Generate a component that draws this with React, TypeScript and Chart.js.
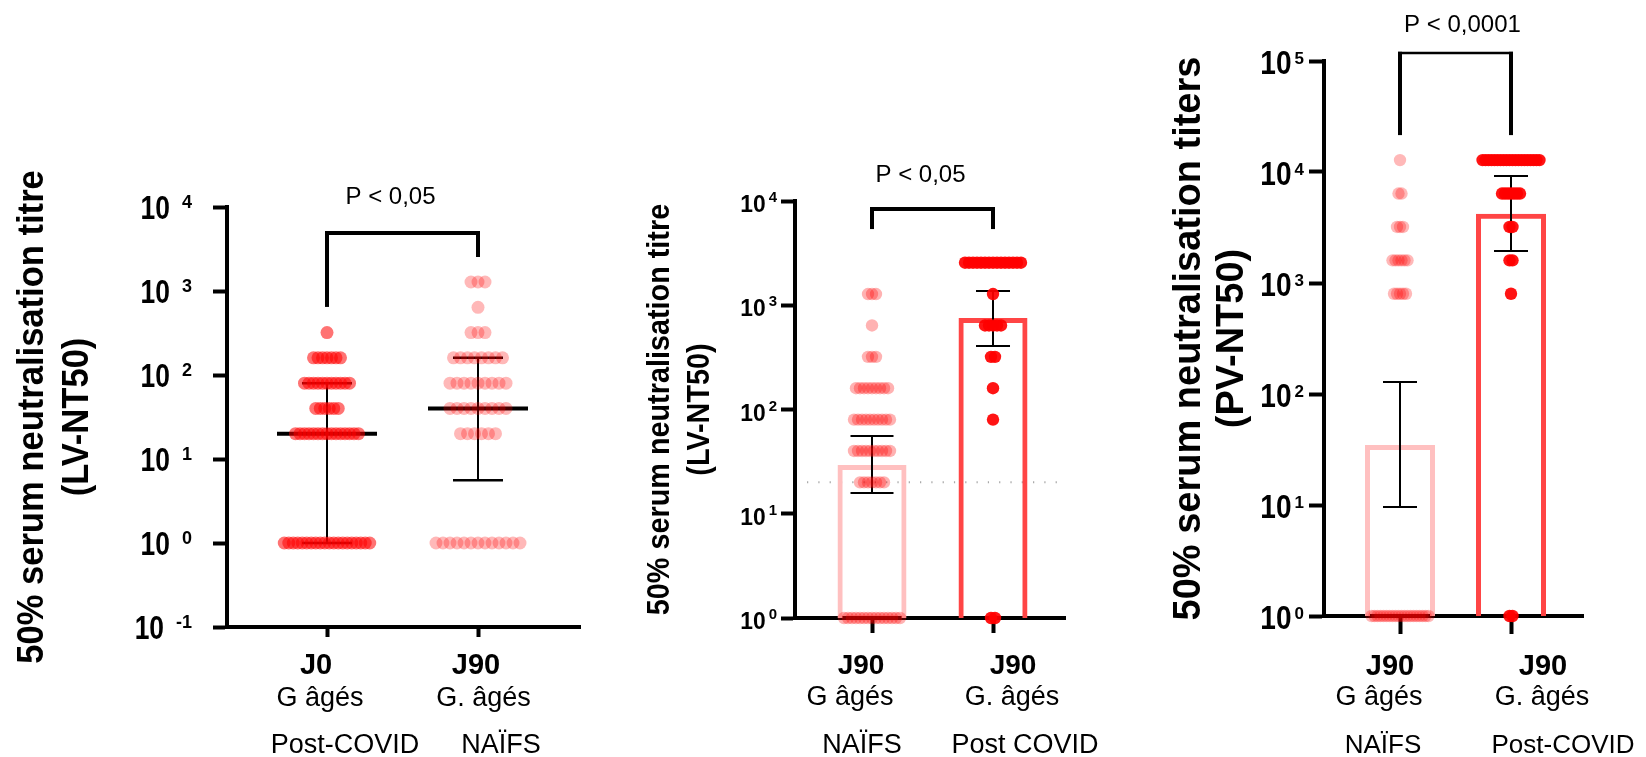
import React, { useEffect, useRef } from 'react';
import { Chart, registerables } from 'chart.js';

Chart.register(...registerables);

const FONT = '"Liberation Sans", Arial, Helvetica, sans-serif';
const W = 1646;
const H = 757;

// ---------------- Panel 1 : LV-NT50, J0 Post-COVID vs J90 NAÏFS ----------------
const p1Levels = [1, 20, 40, 80, 160, 320, 640, 1280];
const p1PostCovidCounts = [20, 15, 6, 11, 7, 1, 0, 0];
const p1NaifsCounts = [13, 6, 9, 9, 8, 3, 1, 3];
const p1Medians = [20, 40];
const p1ErrLow = [1, 5.6];
const p1ErrHigh = [80, 160];
const p1YTicks = [0.1, 1, 10, 100, 1000, 10000];
const p1Days = ['J0', 'J90'];
const p1Groups = ['G âgés', 'G. âgés'];
const p1Status = ['Post-COVID', 'NAÏFS'];
const p1Title = ['50% serum neutralisation titre', '(LV-NT50)'];
const p1PValue = 'P < 0,05';
const p1Bracket = [4900, 646, 2540]; // top, left leg end, right leg end

// ---------------- Panel 2 : LV-NT50, J90 NAÏFS vs J90 Post COVID ----------------
const p2Levels = [1, 20, 40, 80, 160, 320, 640, 1280, 2560];
const p2NaifsCounts = [15, 7, 10, 10, 9, 3, 1, 3, 0];
const p2PostCovidCounts = [2, 0, 0, 1, 1, 2, 5, 1, 15];
const p2BarValues = [29.4, 755];
const p2ErrLow = [15.8, 406];
const p2ErrHigh = [55.7, 1370];
const p2Threshold = 20;
const p2YTicks = [1, 10, 100, 1000, 10000];
const p2Days = ['J90', 'J90'];
const p2Groups = ['G âgés', 'G. âgés'];
const p2Status = ['NAÏFS', 'Post COVID'];
const p2Title = ['50% serum neutralisation titre', '(LV-NT50)'];
const p2PValue = 'P < 0,05';
const p2Bracket = [8380, 5380, 5380];

// ---------------- Panel 3 : PV-NT50, J90 NAÏFS vs J90 Post-COVID ----------------
const p3Levels = [1, 800, 1600, 3200, 6400, 12800];
const p3NaifsCounts = [20, 5, 6, 3, 2, 1];
const p3PostCovidCounts = [2, 1, 2, 2, 7, 20];
const p3BarValues = [34.7, 4200];
const p3ErrLow = [9.6, 1940];
const p3ErrHigh = [128, 9200];
const p3YTicks = [1, 10, 100, 1000, 10000, 100000];
const p3Days = ['J90', 'J90'];
const p3Groups = ['G âgés', 'G. âgés'];
const p3Status = ['NAÏFS', 'Post-COVID'];
const p3Title = ['50% serum neutralisation titers', '(PV-NT50)'];
const p3PValue = 'P < 0,0001';
const p3Bracket = [118000, 21500, 21500];

const panels: any[] = [
  {
    levels: p1Levels,
    groups: [
      { counts: p1PostCovidCounts, color: 'rgba(255,0,0,0.55)', spacingPx: 4.5 },
      { counts: p1NaifsCounts, color: 'rgba(255,0,0,0.28)', spacingPx: 7 },
    ],
    medians: p1Medians, errLow: p1ErrLow, errHigh: p1ErrHigh,
    yTicks: p1YTicks, yMin: 0.1, yMax: 10000,
    days: p1Days, groupLbl: p1Groups, status: p1Status, title: p1Title, pValue: p1PValue, bracket: p1Bracket,
    layout: {
      area: [227, 207, 580, 627], xRange: [-0.6623, 1.6755], xTickLen: 10, yTickLen: 14, pointRadius: 6.5,
      tickLabel: { tenSize: 33, tenScale: 0.8, expSize: 18, gap: 12, rightDx: -35, tenDy: 12, expDy: 1 },
      title: { size: 36, scale: 0.96, dx: [-184, -139] },
      xLabels: { sizes: [29, 27, 27], dy: [47, 79, 126], dx: [[-11, -7, 18], [-2, 5.5, 23]] },
      stats: { errWidth: 2, capWidth: 2.5, capHalf: [25, 25], medianWidth: 4, medianHalf: 50 },
      bracket: { hWidth: 4, legWidth: 4, pSize: 24, pDx: -12, pDy: -29 },
    },
  },
  {
    levels: p2Levels,
    groups: [
      { counts: p2NaifsCounts, color: 'rgba(255,0,0,0.3)', spacingPx: 4 },
      { counts: p2PostCovidCounts, color: 'rgba(255,0,0,0.92)', spacingPx: 4 },
    ],
    bars: { values: p2BarValues, colors: ['#ffc0c0', '#ff4545'] },
    threshold: p2Threshold,
    errLow: p2ErrLow, errHigh: p2ErrHigh,
    yTicks: p2YTicks, yMin: 1, yMax: 10000,
    days: p2Days, groupLbl: p2Groups, status: p2Status, title: p2Title, pValue: p2PValue, bracket: p2Bracket,
    layout: {
      area: [795, 201, 1065, 618], xRange: [-0.6364, 1.595], xTickLen: 15, yTickLen: 14, pointRadius: 6.2,
      barThickness: 69, barBorder: 5, thresholdSpan: [-0.537, 1.545],
      tickLabel: { tenSize: 24, tenScale: 0.95, expSize: 15, gap: 3, rightDx: -18, tenDy: 11, expDy: 1 },
      title: { size: 32, scale: 0.9, dx: [-126, -86] },
      xLabels: { sizes: [28, 27, 27], dy: [56, 87, 135], dx: [[-11, -22, -10], [20, 19, 32]] },
      stats: { errWidth: 2, capWidth: 2, capHalf: [21.5, 17] },
      bracket: { hWidth: 4, legWidth: 4, pSize: 24, pDx: -12, pDy: -27 },
    },
  },
  {
    levels: p3Levels,
    groups: [
      { counts: p3NaifsCounts, color: 'rgba(255,0,0,0.28)', spacingPx: 3 },
      { counts: p3PostCovidCounts, color: 'rgba(255,0,0,0.92)', spacingPx: 3 },
    ],
    bars: { values: p3BarValues, colors: ['#ffc0c0', '#ff4545'] },
    errLow: p3ErrLow, errHigh: p3ErrHigh,
    yTicks: p3YTicks, yMin: 1, yMax: 100000,
    days: p3Days, groupLbl: p3Groups, status: p3Status, title: p3Title, pValue: p3PValue, bracket: p3Bracket,
    layout: {
      area: [1324, 61, 1583, 616], xRange: [-0.6847, 1.6486], xTickLen: 18, yTickLen: 15, pointRadius: 6.2,
      barThickness: 70, barBorder: 5,
      tickLabel: { tenSize: 33, tenScale: 0.85, expSize: 17, gap: 3, rightDx: -20, tenDy: 13, expDy: 3 },
      title: { size: 38, scale: 1, dx: [-124, -81] },
      xLabels: { sizes: [29, 27, 26], dy: [59, 89, 137], dx: [[-10, -21, -17], [32, 31, 52]] },
      stats: { errWidth: 2, capWidth: 2, capHalf: [17, 17] },
      bracket: { hWidth: 2.5, legWidth: 4, pSize: 24, pDx: 7, pDy: -21 },
    },
  },
];

function swarm(levels: number[], counts: number[], group: number, spacing: number) {
  const pts: { x: number; y: number }[] = [];
  levels.forEach((v, i) => {
    const n = counts[i] || 0;
    for (let k = 0; k < n; k++) pts.push({ x: group + (k - (n - 1) / 2) * spacing, y: v });
  });
  return pts;
}

function seg(ctx: CanvasRenderingContext2D, x1: number, y1: number, x2: number, y2: number) {
  ctx.beginPath();
  ctx.moveTo(x1, y1);
  ctx.lineTo(x2, y2);
  ctx.stroke();
}

function drawStats(chart: any, p: any) {
  const ctx: CanvasRenderingContext2D = chart.ctx;
  const xs = chart.scales.x;
  const ys = chart.scales.y;
  const S = p.layout.stats;
  ctx.save();
  ctx.strokeStyle = '#000';
  ctx.lineCap = 'butt';
  p.errHigh.forEach((hi: number, i: number) => {
    const x = xs.getPixelForValue(i);
    const yHi = ys.getPixelForValue(hi);
    const yLo = ys.getPixelForValue(p.errLow[i]);
    ctx.lineWidth = S.errWidth;
    seg(ctx, x, yHi, x, yLo);
    ctx.lineWidth = S.capWidth;
    seg(ctx, x - S.capHalf[i], yHi, x + S.capHalf[i], yHi);
    seg(ctx, x - S.capHalf[i], yLo, x + S.capHalf[i], yLo);
    if (p.medians) {
      const ym = ys.getPixelForValue(p.medians[i]);
      ctx.lineWidth = S.medianWidth;
      seg(ctx, x - S.medianHalf, ym, x + S.medianHalf, ym);
    }
  });
  ctx.restore();
}

function drawTexts(chart: any, p: any) {
  const ctx: CanvasRenderingContext2D = chart.ctx;
  const xs = chart.scales.x;
  const ys = chart.scales.y;
  const area = chart.chartArea;
  const L = p.layout;
  ctx.save();
  ctx.fillStyle = '#000';
  ctx.textBaseline = 'alphabetic';

  // y tick labels 10^n
  const T = L.tickLabel;
  const right = area.left + T.rightDx;
  ys.ticks.forEach((t: any) => {
    const y = ys.getPixelForValue(t.value);
    const exp = String(Math.round(Math.log10(t.value)));
    ctx.textAlign = 'left';
    ctx.font = `bold ${T.expSize}px ${FONT}`;
    const we = ctx.measureText(exp).width;
    ctx.fillText(exp, right - we, y + T.expDy);
    ctx.font = `bold ${T.tenSize}px ${FONT}`;
    const wt = ctx.measureText('10').width * T.tenScale;
    ctx.save();
    ctx.translate(right - we - T.gap - wt, y + T.tenDy);
    ctx.scale(T.tenScale, 1);
    ctx.fillText('10', 0, 0);
    ctx.restore();
  });

  // x category labels
  const X = L.xLabels;
  [0, 1].forEach((i) => {
    const cx = xs.getPixelForValue(i);
    const lines = [p.days[i], p.groupLbl[i], p.status[i]];
    lines.forEach((txt: string, j: number) => {
      ctx.font = `${j === 0 ? 'bold ' : ''}${X.sizes[j]}px ${FONT}`;
      ctx.textAlign = 'center';
      ctx.fillText(txt, cx + X.dx[i][j], area.bottom + X.dy[j]);
    });
  });

  // y axis title
  const Ti = L.title;
  p.title.forEach((txt: string, j: number) => {
    ctx.save();
    ctx.translate(area.left + Ti.dx[j], (area.top + area.bottom) / 2);
    ctx.rotate(-Math.PI / 2);
    ctx.scale(Ti.scale, 1);
    ctx.font = `bold ${Ti.size}px ${FONT}`;
    ctx.textAlign = 'center';
    ctx.fillText(txt, 0, 0);
    ctx.restore();
  });

  // significance bracket
  const B = L.bracket;
  const xl = xs.getPixelForValue(0);
  const xr = xs.getPixelForValue(1);
  const yt = ys.getPixelForValue(p.bracket[0]);
  const yl = ys.getPixelForValue(p.bracket[1]);
  const yr = ys.getPixelForValue(p.bracket[2]);
  ctx.strokeStyle = '#000';
  ctx.lineCap = 'butt';
  ctx.lineWidth = B.legWidth;
  seg(ctx, xl, yt - B.hWidth / 2, xl, yl);
  seg(ctx, xr, yt - B.hWidth / 2, xr, yr);
  ctx.lineWidth = B.hWidth;
  seg(ctx, xl - B.legWidth / 2, yt, xr + B.legWidth / 2, yt);
  ctx.font = `${B.pSize}px ${FONT}`;
  ctx.textAlign = 'center';
  ctx.fillText(p.pValue, (xl + xr) / 2 + B.pDx, yt + B.pDy);
  ctx.restore();
}

function buildChart(canvas: HTMLCanvasElement, p: any) {
  const L = p.layout;
  const [aL, aT, aR, aB] = L.area;
  const unit = (aR - aL) / (L.xRange[1] - L.xRange[0]);
  const datasets: any[] = [];
  p.groups.forEach((g: any, gi: number) => {
    datasets.push({
      type: 'scatter',
      data: swarm(p.levels, g.counts, gi, g.spacingPx / unit),
      pointRadius: L.pointRadius,
      pointHoverRadius: L.pointRadius,
      pointBackgroundColor: g.color,
      backgroundColor: g.color,
      pointBorderWidth: 0,
      borderWidth: 0,
      showLine: false,
      clip: false,
      order: 0,
    });
  });
  if (p.bars) {
    datasets.push({
      type: 'bar',
      data: p.bars.values.map((v: number, i: number) => ({ x: i, y: v })),
      backgroundColor: 'rgba(0,0,0,0)',
      borderColor: p.bars.colors,
      borderWidth: L.barBorder,
      borderSkipped: 'start',
      barThickness: L.barThickness,
      inflateAmount: 0,
      clip: false,
      order: 1,
    });
  }
  if (p.threshold) {
    datasets.push({
      type: 'line',
      data: L.thresholdSpan.map((x: number) => ({ x, y: p.threshold })),
      borderColor: '#a8a8a8',
      borderWidth: 2,
      borderDash: [1.2, 10.1],
      pointRadius: 0,
      fill: false,
      clip: false,
      order: 2,
    });
  }
  const plugin = {
    id: 'decor',
    beforeDatasetsDraw(chart: any) {
      if (!p.bars) drawStats(chart, p);
    },
    afterDatasetDraw(chart: any, args: any) {
      if (p.bars && args.meta.type === 'bar') drawStats(chart, p);
    },
    afterDraw(chart: any) {
      drawTexts(chart, p);
    },
  };
  return new Chart(canvas, {
    type: 'scatter',
    data: { datasets },
    options: {
      animation: false,
      responsive: false,
      maintainAspectRatio: false,
      events: [],
      layout: { padding: { left: aL, top: aT, right: W - aR, bottom: H - aB } },
      plugins: { legend: { display: false }, tooltip: { enabled: false }, title: { display: false } },
      scales: {
        x: {
          type: 'linear',
          min: L.xRange[0],
          max: L.xRange[1],
          offset: false,
          afterBuildTicks: (s: any) => { s.ticks = [{ value: 0 }, { value: 1 }]; },
          afterFit: (s: any) => { s.height = 0; },
          ticks: { display: false },
          grid: { display: true, offset: false, drawOnChartArea: false, drawTicks: true, tickLength: L.xTickLen, tickWidth: 4, tickColor: '#000' },
          border: { display: true, width: 4, color: '#000' },
        },
        y: {
          type: 'logarithmic',
          min: p.yMin,
          max: p.yMax,
          beginAtZero: false,
          afterBuildTicks: (s: any) => { s.ticks = p.yTicks.map((v: number) => ({ value: v })); },
          afterFit: (s: any) => { s.width = 0; },
          ticks: { display: false },
          grid: { display: true, drawOnChartArea: false, drawTicks: true, tickLength: L.yTickLen, tickWidth: 4, tickColor: '#000' },
          border: { display: true, width: 4, color: '#000' },
        },
      },
    } as any,
    plugins: [plugin],
  } as any);
}

export default function App() {
  const r1 = useRef<HTMLCanvasElement>(null);
  const r2 = useRef<HTMLCanvasElement>(null);
  const r3 = useRef<HTMLCanvasElement>(null);
  useEffect(() => {
    const refs = [r1, r2, r3];
    const charts = refs.map((r, i) => buildChart(r.current as HTMLCanvasElement, panels[i]));
    return () => charts.forEach((c) => c.destroy());
  }, []);
  return (
    <div style={{ position: 'absolute', left: 0, top: 0, width: W, height: H, background: '#fff', overflow: 'hidden' }}>
      {[r1, r2, r3].map((r, i) => (
        <canvas key={i} ref={r} width={W} height={H} style={{ position: 'absolute', left: 0, top: 0, width: W, height: H }} />
      ))}
    </div>
  );
}
